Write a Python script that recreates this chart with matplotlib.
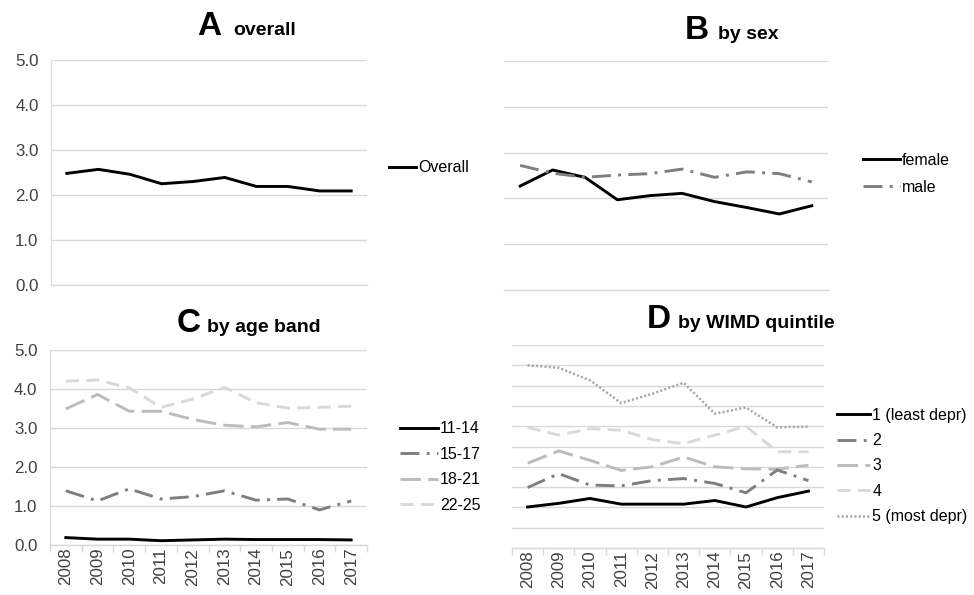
import matplotlib
matplotlib.use('Agg')
import matplotlib.pyplot as plt
from matplotlib.ticker import MultipleLocator, FixedLocator, FormatStrFormatter

plt.rcParams['font.family'] = ['Liberation Sans', 'DejaVu Sans']

years = ['2008', '2009', '2010', '2011', '2012', '2013', '2014', '2015', '2016', '2017']

overall = [2.48, 2.57, 2.46, 2.25, 2.30, 2.39, 2.19, 2.19, 2.09, 2.09]

female = [2.27, 2.62, 2.46, 1.97, 2.06, 2.11, 1.93, 1.80, 1.66, 1.84]
male = [2.72, 2.55, 2.46, 2.51, 2.54, 2.64, 2.46, 2.58, 2.54, 2.36]

age_11_14 = [0.19, 0.15, 0.15, 0.11, 0.13, 0.15, 0.14, 0.14, 0.14, 0.13]
age_15_17 = [1.39, 1.13, 1.44, 1.18, 1.24, 1.39, 1.15, 1.18, 0.90, 1.13]
age_18_21 = [3.49, 3.86, 3.43, 3.43, 3.22, 3.07, 3.03, 3.14, 2.97, 2.97]
age_22_25 = [4.20, 4.23, 4.03, 3.53, 3.74, 4.04, 3.65, 3.51, 3.53, 3.56]

wimd_1 = [1.01, 1.10, 1.22, 1.08, 1.08, 1.08, 1.17, 1.01, 1.24, 1.40]
wimd_2 = [1.49, 1.83, 1.55, 1.53, 1.66, 1.71, 1.59, 1.36, 1.92, 1.66]
wimd_3 = [2.09, 2.39, 2.16, 1.91, 2.00, 2.24, 2.00, 1.95, 1.94, 2.04]
wimd_4 = [2.97, 2.78, 2.94, 2.90, 2.67, 2.57, 2.78, 3.00, 2.37, 2.37]
wimd_5 = [4.50, 4.44, 4.13, 3.57, 3.80, 4.07, 3.31, 3.46, 2.97, 2.99]

W, H = 974, 595
GRID = '#d9d9d9'
TXT = '#404040'
FS = 11.5
FS_TICK = 12.2

# line styles: (colour, dash pattern)
solid = dict(color='black', lw=2.1, linestyle='-')
dashdot = dict(color='#7f7f7f', lw=2.1, linestyle=(0, (6.5, 2.5, 1, 2.5)))
longdash = dict(color='#bcbcbc', lw=2.1, linestyle=(0, (7, 2.5)))
dash = dict(color='#d9d9d9', lw=2.1, linestyle=(0, (4.5, 2.5)))
dots = dict(color='#a6a6a6', lw=1.8, linestyle=(0, (0.8, 0.9)))

fig = plt.figure(figsize=(W / 100, H / 100), dpi=100)


def make_axes(left, top, right, bottom):
    return fig.add_axes([left / W, 1 - bottom / H, (right - left) / W, (bottom - top) / H])


def style(ax, step, left_line, ylabels, xlabels):
    ax.set_xlim(-0.5, len(years) - 0.5)
    ax.set_ylim(0, 5)
    ax.yaxis.set_major_locator(MultipleLocator(step))
    ax.yaxis.set_major_formatter(FormatStrFormatter('%.1f'))
    ax.grid(axis='y', color=GRID, lw=1.0)
    ax.set_axisbelow(True)
    for s in ['top', 'right']:
        ax.spines[s].set_visible(False)
    ax.spines['left'].set_visible(left_line)
    ax.spines['left'].set_color(GRID)
    ax.spines['bottom'].set_color(GRID)
    ax.spines['bottom'].set_linewidth(1.0)
    ax.tick_params(axis='y', length=0, labelsize=FS_TICK, labelcolor=TXT, pad=9)
    if not ylabels:
        ax.set_yticklabels([])
    ax.set_xticks(range(len(years)))
    if xlabels:
        ax.set_xticklabels(years, rotation=90, fontsize=FS_TICK, color=TXT)
        ax.xaxis.set_minor_locator(FixedLocator([i - 0.5 for i in range(len(years) + 1)]))
        ax.tick_params(axis='x', which='major', length=0, pad=2)
        ax.tick_params(axis='x', which='minor', length=5, color=GRID, width=1.0)
    else:
        ax.set_xticklabels([])
        ax.tick_params(axis='x', length=0)


def title(x_letter, x_text, y, letter, text):
    fig.text(x_letter / W, 1 - y / H, letter, fontsize=24, fontweight='bold', va='baseline')
    fig.text(x_text / W, 1 - y / H, text, fontsize=14, fontweight='bold', va='baseline')


def legend(ax, x, y, handlelen, spacing, handles=None, labels=None):
    if handles is None:
        handles, labels = ax.get_legend_handles_labels()
    ax.legend(handles, labels, loc='center left', bbox_to_anchor=(x / W, 1 - y / H),
              bbox_transform=fig.transFigure, frameon=False, fontsize=FS,
              handlelength=handlelen, handletextpad=0.15, labelspacing=spacing,
              borderpad=0, borderaxespad=0)


x = list(range(len(years)))

# A: overall
axA = make_axes(51, 60, 367, 285)
style(axA, 1.0, True, True, False)
axA.plot(x, overall, label='Overall', **solid)
legend(axA, 389, 168, 1.7, 0.8)
title(197, 233, 35, 'A', 'overall')

# B: by sex
axB = make_axes(504, 61, 828, 290)
style(axB, 1.0, False, False, False)
axB.plot(x, female, label='female', **solid)
axB.plot(x, male, label='male', **dashdot)
legend(axB, 863, 174, 2.3, 0.75)
title(685, 718, 39, 'B', 'by sex')

# C: by age band
axC = make_axes(50, 350, 367, 545)
style(axC, 1.0, True, True, True)
axC.plot(x, age_11_14, label='11-14', **solid)
axC.plot(x, age_15_17, label='15-17', **dashdot)
axC.plot(x, age_18_21, label='18-21', **longdash)
axC.plot(x, age_22_25, label='22-25', **dash)
legend(axC, 400, 467, 2.35, 0.65)
title(177, 207, 332, 'C', 'by age band')

# D: by WIMD quintile
axD = make_axes(512, 345, 824, 548)
style(axD, 0.5, False, False, True)
axD.plot(x, wimd_5, label='5 (most depr)', **dots)
axD.plot(x, wimd_4, label='4', **dash)
axD.plot(x, wimd_3, label='3', **longdash)
axD.plot(x, wimd_2, label='2', **dashdot)
axD.plot(x, wimd_1, label='1 (least depr)', **solid)
h, l = axD.get_legend_handles_labels()
legend(axD, 837, 466, 2.05, 0.65, h[::-1], l[::-1])
title(647, 678, 328, 'D', 'by WIMD quintile')

fig.savefig('out.png', dpi=100)
